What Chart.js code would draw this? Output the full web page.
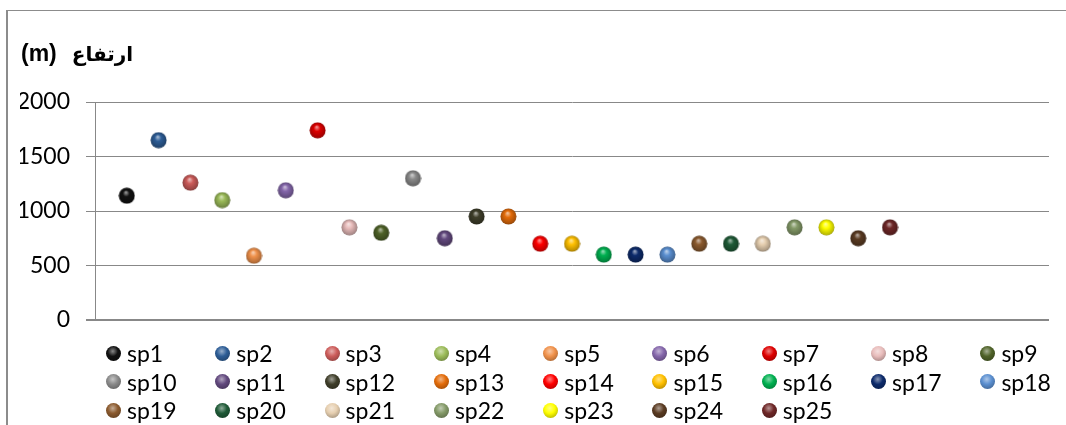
<!DOCTYPE html>
<html>
<head>
<meta charset="utf-8">
<script src="https://cdn.jsdelivr.net/npm/chart.js@4"></script>
<style>
  body { margin: 0; background: #fff; }
  #wrap { position: relative; width: 1066px; height: 425px; }
  #frame { position: absolute; left: 6px; top: 10px; right: 0; bottom: -5px;
           border-left: 2px solid #8c8c8c; border-top: 1px solid #8c8c8c; }
  #title { position: absolute; left: 21px; top: 40px; height: 26px; line-height: 26px;
           color: #000; font-weight: bold; white-space: nowrap; }
  #title .u { font: bold 23px "Liberation Sans", sans-serif; }
  #title .a { font: bold 20px "DejaVu Sans", sans-serif; margin-left: 15px; }
  #legend { position: absolute; left: 106px; top: 339px; width: 990px;
            display: grid; grid-template-columns: repeat(9, 109.3px); grid-auto-rows: 28.5px;
            font: 23px Lato, sans-serif; color: #000; }
  #legend div { display: flex; align-items: center; white-space: nowrap; }
  #legend span.m { width: 15px; height: 15px; border-radius: 50%; margin-right: 6px; flex: none; }
</style>
</head>
<body>
<div id="wrap">
  <div id="frame"></div>
  <canvas id="myChart" width="1066" height="425"></canvas>
  <div id="title" dir="ltr"><span class="u">(m)</span><span class="a" dir="rtl">ارتفاع</span></div>
  <div id="legend"></div>
</div>
<script>
const species = ["sp1","sp2","sp3","sp4","sp5","sp6","sp7","sp8","sp9","sp10","sp11","sp12","sp13",
  "sp14","sp15","sp16","sp17","sp18","sp19","sp20","sp21","sp22","sp23","sp24","sp25"];
const altitude = [1140,1650,1260,1100,590,1190,1740,850,800,1300,750,950,950,
  700,700,600,600,600,700,700,700,850,850,750,850];
const colors = ["#111111","#2d5d96","#cc5c5a","#9bbb59","#f0914a","#8466aa","#dd0000","#e8bcbb","#4f6228",
  "#8a8a8a","#62497e","#3f3e2a","#e36c0a","#ff0000","#ffc000","#00b050","#0d2b6b","#5b8fd0",
  "#8b5a2e","#1f5a37","#e6cfb0","#849a68","#ffff00","#5a3b22","#6e2727"];
const yTicks = [0, 500, 1000, 1500, 2000];

function shade(hex, f) {
  let n = parseInt(hex.slice(1), 16);
  let r = n >> 16, g = (n >> 8) & 255, b = n & 255;
  const m = c => Math.max(0, Math.min(255, Math.round(f > 0 ? c + (255 - c) * f : c * (1 + f))));
  return "rgb(" + m(r) + "," + m(g) + "," + m(b) + ")";
}

function sphere(color, size) {
  const c = document.createElement("canvas");
  c.width = size; c.height = size;
  const ctx = c.getContext("2d");
  const r = size / 2;
  const g = ctx.createRadialGradient(r * 0.9, r * 0.6, 0.5, r, r, r);
  g.addColorStop(0, shade(color, 0.55));
  g.addColorStop(0.35, color);
  g.addColorStop(0.85, shade(color, -0.25));
  g.addColorStop(1, shade(color, -0.45));
  ctx.fillStyle = g;
  ctx.beginPath();
  ctx.arc(r, r, r - 0.5, 0, Math.PI * 2);
  ctx.fill();
  return c;
}

const datasets = species.map((name, i) => ({
  label: name,
  data: [{ x: i + 1, y: altitude[i] }],
  pointStyle: sphere(colors[i], 17),
  pointRadius: 8.5,
  backgroundColor: colors[i]
}));

const legend = document.getElementById("legend");
species.forEach((name, i) => {
  const d = document.createElement("div");
  d.innerHTML = '<span class="m" style="background: radial-gradient(circle at 45% 35%, ' +
    shade(colors[i], 0.5) + ' 0%, ' + colors[i] + ' 40%, ' + shade(colors[i], -0.4) + ' 100%)"></span>' + name;
  legend.appendChild(d);
});

new Chart(document.getElementById("myChart"), {
  type: "scatter",
  data: { datasets },
  options: {
    responsive: false,
    animation: false,
    layout: { padding: { left: 20, right: 17, top: 102, bottom: 105 } },
    plugins: {
      legend: { display: false },
      tooltip: { enabled: false }
    },
    scales: {
      x: { type: "linear", min: 0, max: 30, display: false },
      y: {
        min: 0, max: 2000,
        afterFit: s => { s.width = 75; },
        afterBuildTicks: s => { s.ticks = yTicks.map(v => ({ value: v })); },
        border: { display: true, color: "#888", width: 1 },
        grid: {
          color: "#888",
          lineWidth: c => (c.tick && c.tick.value === 0 ? 2 : 1),
          tickLength: 9,
          drawTicks: true
        },
        ticks: {
          color: "#000",
          padding: 16,
          font: { family: "Lato", size: 23 },
          callback: v => String(v)
        }
      }
    }
  }
});
</script>
</body>
</html>
